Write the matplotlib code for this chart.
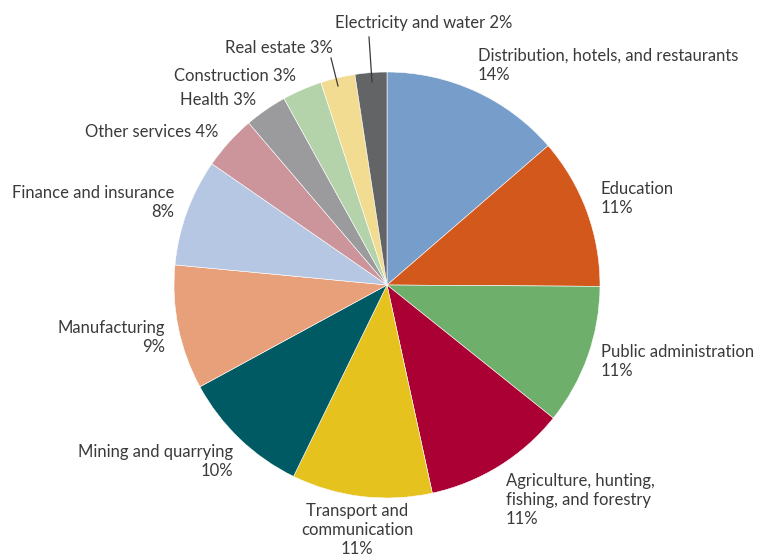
import numpy as np
import matplotlib.pyplot as plt

plt.rcParams['font.family'] = ['Lato', 'DejaVu Sans']

sectors = ["Distribution, hotels, and restaurants", "Education",
           "Public administration", "Agriculture, hunting,\nfishing, and forestry",
           "Transport and\ncommunication", "Mining and quarrying", "Manufacturing",
           "Finance and insurance", "Other services", "Health", "Construction",
           "Real estate", "Electricity and water"]
shares = [13.6, 11.4, 10.6, 10.8, 10.6, 9.8, 9.4, 8.1, 4.1, 3.2, 3.0, 2.6, 2.4]
colors = ["#779dca", "#d2581b", "#6faf6c", "#aa0033", "#e6c21f", "#005a64",
          "#e8a07a", "#b6c7e3", "#cc959b", "#9b9b9d", "#b4d3aa", "#f2dc92",
          "#636466"]

W, H = 758, 557
fig = plt.figure(figsize=(W / 100, H / 100), dpi=100)
ax = fig.add_axes([0, 0, 1, 1])

cx, cy, r = 387, 285, 213
ax.pie(shares, colors=colors, startangle=90, counterclock=False,
       center=(cx, -cy), radius=r, frame=True,
       wedgeprops=dict(edgecolor='white', linewidth=0.4))
ax.set_xlim(0, W)
ax.set_ylim(-H, 0)
ax.set_aspect('equal')
ax.axis('off')

# x, y of first text row (pixels from top-left), alignment, one-line label?
pos = [(478, 55, 'left', False), (601, 188, 'left', False),
       (601, 351, 'left', False), (506, 480, 'left', False),
       (357, 510, 'center', False), (233, 451, 'right', False),
       (165, 327, 'right', False), (174, 192, 'right', False),
       (218, 131, 'right', True), (256, 99, 'right', True),
       (296, 75, 'right', True), (333, 47, 'right', True),
       (335, 22, 'left', True)]

for name, val, (x, y, ha, inline) in zip(sectors, shares, pos):
    pct = f"{round(val)}%"
    txt = f"{name} {pct}" if inline else f"{name}\n{pct}"
    ax.text(x, -(y - 7), txt, ha=ha, va='top', multialignment=ha,
            fontsize=12, color='#3a3a3a', linespacing=1.22)

# leader lines for the two thinnest slices
ax.plot([369, 372], [-37, -82], color='#3a3a3a', lw=0.9)
ax.plot([331, 338], [-58, -86], color='#3a3a3a', lw=0.9)

fig.savefig("out.png", dpi=100)
